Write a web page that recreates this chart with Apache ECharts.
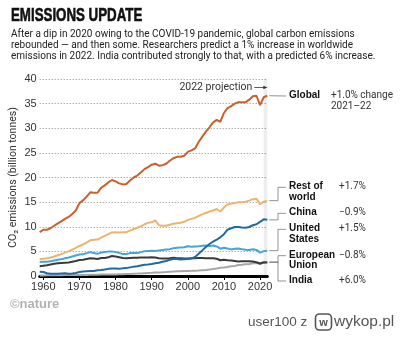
<!DOCTYPE html>
<html>
<head>
<meta charset="utf-8">
<script src="https://cdn.jsdelivr.net/npm/echarts@6/dist/echarts.min.js"></script>
<style>
  html, body { margin: 0; padding: 0; background: #fff; }
  #chart { width: 400px; height: 339px; }
</style>
</head>
<body>
<div id="chart"></div>
<script>
// Fossil CO2 emissions, billion tonnes, 1959–2022 (2022 = projection)
const years = [];
for (let y = 1959; y <= 2022; y++) years.push(y);

const decadeTicks = [1960, 1970, 1980, 1990, 2000, 2010, 2020];

const globalCO2 = [
  8.9, 9.4, 9.4, 9.7, 10.2, 10.7, 11.1, 11.6, 12.0, 12.6, 13.3,
  14.8, 15.4, 16.1, 17.0, 16.9, 16.9, 17.9, 18.4, 19.0, 19.5,
  19.2, 18.8, 18.6, 18.7, 19.4, 20.0, 20.4, 21.0, 21.7, 22.1,
  22.6, 22.8, 22.4, 22.5, 22.8, 23.4, 23.9, 24.2, 24.2, 24.4,
  25.2, 25.5, 25.9, 27.2, 28.3, 29.3, 30.2, 31.2, 31.7, 31.3,
  33.1, 34.1, 34.5, 35.0, 35.3, 35.3, 35.3, 35.8, 36.5, 36.6,
  34.7, 36.3, 36.6
];
const restOfWorld = [
  3.4, 3.5, 3.6, 3.75, 3.95, 4.2, 4.45, 4.75, 5.0, 5.35, 5.7,
  6.1, 6.4, 6.8, 7.25, 7.35, 7.4, 7.8, 8.15, 8.5, 8.85,
  8.9, 8.85, 8.9, 8.9, 9.2, 9.5, 9.8, 10.1, 10.5, 10.8,
  10.9, 11.3, 10.3, 10.2, 10.2, 10.4, 10.6, 10.7, 10.8, 11.0,
  11.4, 11.6, 11.8, 12.2, 12.5, 12.8, 13.1, 13.3, 13.6, 13.1,
  13.9, 14.5, 14.7, 14.8, 15.0, 15.0, 15.1, 15.3, 15.6, 15.7,
  14.6, 15.1, 15.3
];
const china = [
  0.85, 0.8, 0.55, 0.45, 0.45, 0.45, 0.5, 0.55, 0.45, 0.5, 0.6,
  0.8, 0.9, 0.95, 1.0, 1.0, 1.15, 1.2, 1.3, 1.45, 1.5,
  1.5, 1.45, 1.55, 1.6, 1.75, 1.9, 2.0, 2.15, 2.3, 2.35,
  2.45, 2.6, 2.7, 2.9, 3.05, 3.3, 3.45, 3.45, 3.35, 3.4,
  3.45, 3.55, 3.85, 4.5, 5.2, 5.9, 6.5, 7.0, 7.4, 7.85,
  8.5, 9.4, 9.7, 9.95, 9.95, 9.85, 9.8, 9.95, 10.3, 10.5,
  11.0, 11.5, 11.4
];
const unitedStates = [
  2.85, 2.9, 2.9, 3.0, 3.15, 3.3, 3.4, 3.6, 3.75, 3.95, 4.15,
  4.35, 4.4, 4.65, 4.85, 4.65, 4.5, 4.75, 4.85, 4.95, 5.0,
  4.85, 4.7, 4.45, 4.45, 4.65, 4.65, 4.65, 4.85, 5.05, 5.1,
  5.15, 5.1, 5.2, 5.3, 5.4, 5.45, 5.65, 5.75, 5.8, 5.85,
  6.05, 5.95, 6.0, 6.05, 6.15, 6.2, 6.1, 6.2, 6.0, 5.55,
  5.75, 5.6, 5.4, 5.55, 5.6, 5.45, 5.35, 5.3, 5.45, 5.3,
  4.75, 5.05, 5.15
];
const europeanUnion = [
  2.0, 2.1, 2.2, 2.35, 2.5, 2.6, 2.65, 2.7, 2.75, 2.9, 3.05,
  3.25, 3.3, 3.45, 3.6, 3.55, 3.45, 3.65, 3.65, 3.8, 4.05,
  3.95, 3.8, 3.65, 3.6, 3.65, 3.7, 3.7, 3.75, 3.75, 3.75,
  3.8, 3.75, 3.6, 3.55, 3.55, 3.6, 3.7, 3.6, 3.6, 3.55,
  3.55, 3.6, 3.6, 3.65, 3.65, 3.6, 3.62, 3.58, 3.5, 3.2,
  3.3, 3.2, 3.15, 3.05, 2.95, 3.0, 3.0, 3.0, 2.95, 2.8,
  2.55, 2.8, 2.75
];
const india = [
  0.1, 0.12, 0.13, 0.14, 0.15, 0.16, 0.17, 0.18, 0.18, 0.19, 0.2,
  0.2, 0.21, 0.22, 0.23, 0.24, 0.26, 0.28, 0.29, 0.3, 0.31,
  0.32, 0.35, 0.37, 0.4, 0.42, 0.46, 0.49, 0.53, 0.57, 0.61,
  0.65, 0.7, 0.73, 0.76, 0.8, 0.87, 0.9, 0.95, 0.97, 1.02,
  1.04, 1.05, 1.08, 1.12, 1.19, 1.24, 1.32, 1.42, 1.53, 1.66,
  1.74, 1.83, 1.98, 2.03, 2.22, 2.28, 2.39, 2.45, 2.6, 2.63,
  2.44, 2.71, 2.87
];

// Right-hand labels: name, change text, colour
const seriesNames = ['Global', 'Rest of\nworld', 'China', 'United\nStates', 'European\nUnion', 'India'];
const changeTexts = ['+1.0% change\n2021–22', '+1.7%', '−0.9%', '+1.5%', '−0.8%', '+6.0%'];
const seriesColors = ['#c8612d', '#edb36f', '#1f6aa3', '#45a6d6', '#3a3a3a', '#a6a6a6'];
const seriesData = [globalCO2, restOfWorld, china, unitedStates, europeanUnion, india];

const FONT = '"Liberation Sans", Arial, sans-serif';
const chart = echarts.init(document.getElementById('chart'), null, { renderer: 'canvas' });

const lineSeries = seriesData.map((vals, i) => ({
  type: 'line',
  data: years.map((y, k) => [y, vals[k]]),
  showSymbol: false,
  silent: true,
  z: 3 + (seriesData.length - i),
  lineStyle: { color: seriesColors[i], width: 2 },
  markArea: i === 0 ? {
    silent: true,
    itemStyle: { color: 'rgba(0,0,0,0.07)' },
    data: [[{ xAxis: 2021, yAxis: 0 }, { xAxis: 2022, yAxis: 40 }]]
  } : undefined
}));

chart.setOption({
  animation: false,
  backgroundColor: '#fff',
  grid: { left: 39.7, right: 132.7, top: 79, bottom: 63, outerBoundsMode: 'none', containLabel: false },
  xAxis: {
    type: 'value', min: 1959, max: 2022,
    axisLine: { show: true, onZero: false, lineStyle: { color: '#000', width: 3 } },
    axisTick: { show: true, customValues: decadeTicks, length: 4, lineStyle: { color: '#000', width: 1 } },
    axisLabel: { customValues: decadeTicks, formatter: v => String(v), fontSize: 11, color: '#333', margin: 5, fontFamily: FONT },
    splitLine: { show: false }
  },
  yAxis: {
    type: 'value', min: 0, max: 40, interval: 5,
    axisLine: { show: false }, axisTick: { show: false },
    axisLabel: { fontSize: 11, color: '#333', margin: 3, fontFamily: FONT },
    splitLine: { show: true, lineStyle: { color: '#8a8a8a', type: [1, 2], width: 1 } }
  },
  series: lineSeries
});

// Annotations: title, subtitle, axis name, end labels with elbow connectors
const labelY = [96, 187.3, 213.3, 229.3, 255.7, 281];
const gfx = [];

gfx.push({
  type: 'text', x: 11, y: 25.5, scaleX: 0.7,
  style: { text: 'EMISSIONS UPDATE', font: `bold 19px ${FONT}`, fill: '#111', stroke: '#111', lineWidth: 0.6, textVerticalAlign: 'bottom' }
});
gfx.push({
  type: 'text', x: 11, y: 29.5,
  style: {
    text: 'After a dip in 2020 owing to the COVID-19 pandemic, global carbon emissions\nrebounded — and then some. Researchers predict a 1% increase in worldwide\nemissions in 2022. India contributed strongly to that, with a predicted 6% increase.',
    font: `10px Roboto, ${FONT}`, fill: '#222', lineHeight: 10.8, textVerticalAlign: 'top'
  }
});
gfx.push({
  type: 'text', x: 13, y: 177.5, rotation: Math.PI / 2,
  style: { text: 'CO₂ emissions (billion tonnes)', font: `10.5px Roboto, ${FONT}`, fill: '#333', textAlign: 'center', textVerticalAlign: 'middle' }
});

const px2022 = chart.convertToPixel({ gridIndex: 0 }, [2022, 0])[0];
gfx.push({
  type: 'text', x: px2022 - 15, y: 87.5,
  style: { text: '2022 projection', font: `10.5px Roboto, ${FONT}`, fill: '#333', textAlign: 'right', textVerticalAlign: 'middle' }
});
gfx.push({ type: 'line', shape: { x1: px2022 - 13, y1: 87.5, x2: px2022 - 1, y2: 87.5 }, style: { stroke: '#333', lineWidth: 0.8 } });
gfx.push({ type: 'polygon', shape: { points: [[px2022, 87.5], [px2022 - 4, 85.8], [px2022 - 4, 89.2]] }, style: { fill: '#333' } });

seriesData.forEach((vals, i) => {
  const end = chart.convertToPixel({ gridIndex: 0 }, [2022, vals[vals.length - 1]]);
  const ly = labelY[i];
  const pts = i === 0
    ? [[end[0] + 2, end[1]], [286, ly]]
    : [[end[0] + 2, end[1]], [278, end[1]], [278, ly], [286, ly]];
  gfx.push({ type: 'polyline', shape: { points: pts }, style: { stroke: '#777', lineWidth: 0.8, fill: null } });
  gfx.push({
    type: 'text', x: 289, y: ly - 6,
    style: { text: seriesNames[i], font: `bold 10px ${FONT}`, fill: '#111', lineHeight: 10.5, textVerticalAlign: 'top' }
  });
  gfx.push({
    type: 'text', x: i === 0 ? 331 : 339, y: ly - 6,
    style: { text: changeTexts[i], font: `10px Roboto, ${FONT}`, fill: '#333', lineHeight: 11, textVerticalAlign: 'top' }
  });
});

gfx.push({
  type: 'text', x: 10, y: 304,
  style: { text: '©nature', font: `bold 13px ${FONT}`, fill: '#b3b3b3', textVerticalAlign: 'middle' }
});
gfx.push({
  type: 'text', x: 248, y: 322,
  style: { text: 'user100 z', font: `13.5px ${FONT}`, fill: '#555', textVerticalAlign: 'middle' }
});
gfx.push({ type: 'rect', shape: { x: 315.5, y: 314, width: 16, height: 16, r: 4 }, style: { stroke: '#555', lineWidth: 1.6, fill: '#fff' } });
gfx.push({
  type: 'text', x: 323.5, y: 322.5,
  style: { text: 'w', font: `bold 11px ${FONT}`, fill: '#555', textAlign: 'center', textVerticalAlign: 'middle' }
});
gfx.push({
  type: 'text', x: 334, y: 322,
  style: { text: 'wykop.pl', font: `15.5px ${FONT}`, fill: '#555', textVerticalAlign: 'middle' }
});

chart.setOption({ graphic: { elements: gfx } });
</script>
</body>
</html>
